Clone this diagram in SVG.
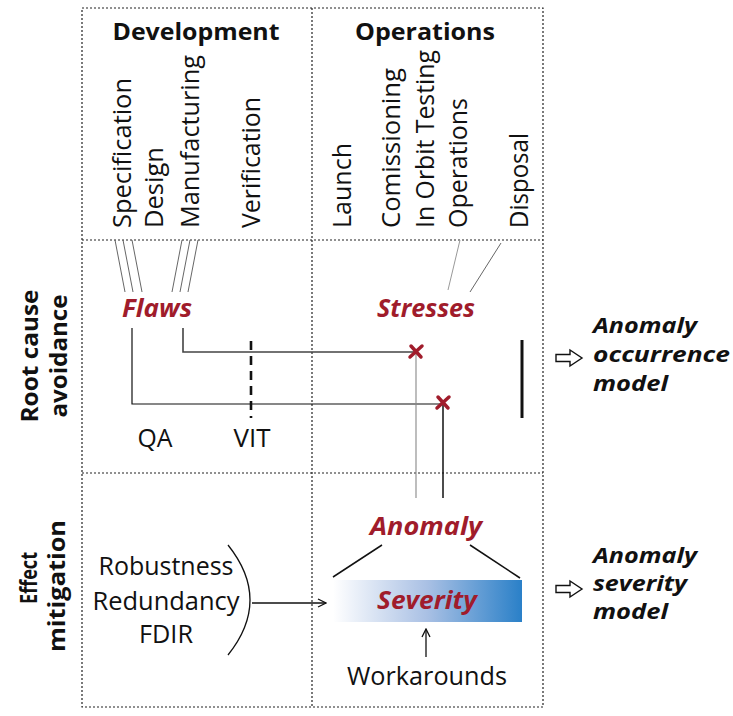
<svg xmlns="http://www.w3.org/2000/svg" width="733" height="716" viewBox="0 0 733 716">
<style>
text{font-family:"Open Sans","Liberation Sans",sans-serif;fill:#111;}
.hdr{font-size:24px;font-weight:bold;text-anchor:middle;}
.ph{font-size:26px;}
.lbl{font-size:25px;}
.red{font-size:25px;font-weight:bold;font-style:italic;fill:#a01c2b;text-anchor:middle;}
.side{font-size:24px;font-weight:bold;text-anchor:middle;}
.mod{font-size:22px;font-weight:bold;font-style:italic;}
.grid{fill:none;stroke:#222;stroke-width:1.2;stroke-dasharray:2 2;}
.thin{fill:none;stroke:#555;stroke-width:0.9;}
.cx{stroke:#a01c2b;stroke-width:3.5;stroke-linecap:round;}
</style>
<defs>
<linearGradient id="sev" x1="0" y1="0" x2="1" y2="0">
<stop offset="0" stop-color="#ffffff"/>
<stop offset="0.5" stop-color="#a9c0e4"/>
<stop offset="1" stop-color="#2a80c8"/>
</linearGradient>
<marker id="arr" markerWidth="10" markerHeight="10" refX="9" refY="5" orient="auto" markerUnits="userSpaceOnUse">
<path d="M1,1 L9,5 L1,9" fill="none" stroke="#111" stroke-width="1.3"/>
</marker>
</defs>

<g id="grid">
<rect class="grid" x="82" y="8" width="461" height="699"/>
<line class="grid" x1="312" y1="8" x2="312" y2="707"/>
<line class="grid" x1="82" y1="240" x2="543" y2="240"/>
<line class="grid" x1="82" y1="473" x2="543" y2="473"/>
</g>

<g id="headers">
<text class="hdr" x="196" y="40" textLength="167" lengthAdjust="spacingAndGlyphs">Development</text>
<text class="hdr" x="425" y="40" textLength="140" lengthAdjust="spacingAndGlyphs">Operations</text>
</g>

<g id="phases">
<text class="ph" transform="translate(131,228) rotate(-90)" textLength="150" lengthAdjust="spacingAndGlyphs">Specification</text>
<text class="ph" transform="translate(163,228) rotate(-90)" textLength="81" lengthAdjust="spacingAndGlyphs">Design</text>
<text class="ph" transform="translate(199,228) rotate(-90)" textLength="173" lengthAdjust="spacingAndGlyphs">Manufacturing</text>
<text class="ph" transform="translate(260,228) rotate(-90)" textLength="131" lengthAdjust="spacingAndGlyphs">Verification</text>
<text class="ph" transform="translate(351,228) rotate(-90)" textLength="85" lengthAdjust="spacingAndGlyphs">Launch</text>
<text class="ph" transform="translate(400,228) rotate(-90)" textLength="160" lengthAdjust="spacingAndGlyphs">Comissioning</text>
<text class="ph" transform="translate(434,228) rotate(-90)" textLength="178" lengthAdjust="spacingAndGlyphs">In Orbit Testing</text>
<text class="ph" transform="translate(467,228) rotate(-90)" textLength="130" lengthAdjust="spacingAndGlyphs">Operations</text>
<text class="ph" transform="translate(528,228) rotate(-90)" textLength="95" lengthAdjust="spacingAndGlyphs">Disposal</text>
</g>

<g id="side-labels">
<text class="side" transform="translate(38,356) rotate(-90)" textLength="133" lengthAdjust="spacingAndGlyphs">Root cause</text>
<text class="side" transform="translate(67,356) rotate(-90)" textLength="123" lengthAdjust="spacingAndGlyphs">avoidance</text>
<text class="side" transform="translate(37,578) rotate(-90)" textLength="52" lengthAdjust="spacingAndGlyphs">Effect</text>
<text class="side" transform="translate(65,586) rotate(-90)" textLength="132" lengthAdjust="spacingAndGlyphs">mitigation</text>
</g>

<g id="connectors">
<line class="thin" x1="115" y1="240" x2="125" y2="292"/>
<line class="thin" x1="123" y1="240" x2="133" y2="292"/>
<line class="thin" x1="132" y1="240" x2="142" y2="292"/>
<line class="thin" x1="182" y1="240" x2="172" y2="292"/>
<line class="thin" x1="190" y1="240" x2="180" y2="292"/>
<line class="thin" x1="198" y1="240" x2="188" y2="292"/>
<line x1="460" y1="240" x2="448" y2="290" stroke="#999" stroke-width="1"/>
<line x1="501" y1="243" x2="470" y2="292" stroke="#666" stroke-width="1"/>
<path d="M183,328 V352 H416" fill="none" stroke="#444" stroke-width="1.6"/>
<path d="M132,328 V404 H443" fill="none" stroke="#111" stroke-width="1.2"/>
<line x1="416" y1="352" x2="416" y2="498" stroke="#888" stroke-width="1.1"/>
<line x1="443" y1="403" x2="443" y2="498" stroke="#111" stroke-width="1.5"/>
<line x1="251" y1="341" x2="251" y2="418" stroke="#111" stroke-width="2.6" stroke-dasharray="9 6"/>
<line x1="522" y1="340" x2="522" y2="418" stroke="#111" stroke-width="3"/>
<line x1="382" y1="545" x2="333" y2="577" stroke="#111" stroke-width="1.5"/>
<line x1="470" y1="545" x2="520" y2="578" stroke="#111" stroke-width="1.5"/>
<path d="M228,545 Q272,600 228,655" fill="none" stroke="#111" stroke-width="1.3"/>
<line x1="252" y1="603" x2="326" y2="603" stroke="#111" stroke-width="1.3" marker-end="url(#arr)"/>
<line x1="426" y1="657" x2="426" y2="629" stroke="#111" stroke-width="1.3" marker-end="url(#arr)"/>
<path d="M556,354.5 H570 V350 L582,358 L570,366 V361.5 H556 Z" fill="#fff" stroke="#111" stroke-width="1.4"/>
<path d="M556,585.5 H570 V581 L582,589 L570,597 V592.5 H556 Z" fill="#fff" stroke="#111" stroke-width="1.4"/>
</g>

<g id="crosses">
<path class="cx" d="M411,346 L421,357 M422,346 L410,357"/>
<path class="cx" d="M438,397 L448,408 M449,397 L437,408"/>
</g>

<g id="flaws"><text class="red" x="157" y="317" textLength="70" lengthAdjust="spacingAndGlyphs">Flaws</text></g>
<g id="stresses"><text class="red" x="426" y="317" textLength="98" lengthAdjust="spacingAndGlyphs">Stresses</text></g>
<g id="qa"><text class="lbl" x="155" y="447" text-anchor="middle" textLength="35" lengthAdjust="spacingAndGlyphs">QA</text></g>
<g id="vit"><text class="lbl" x="252" y="447" text-anchor="middle" textLength="37" lengthAdjust="spacingAndGlyphs">VIT</text></g>

<g id="anomaly"><text class="red" x="426" y="535" textLength="112" lengthAdjust="spacingAndGlyphs">Anomaly</text></g>
<g id="severity">
<rect x="333" y="580" width="189" height="42" fill="url(#sev)"/>
<text class="red" x="427" y="609" textLength="100" lengthAdjust="spacingAndGlyphs">Severity</text>
</g>
<g id="workarounds"><text class="lbl" x="427" y="685" text-anchor="middle" textLength="160" lengthAdjust="spacingAndGlyphs">Workarounds</text></g>

<g id="mitigations">
<text class="lbl" x="166" y="575" text-anchor="middle" textLength="135" lengthAdjust="spacingAndGlyphs">Robustness</text>
<text class="lbl" x="166" y="610" text-anchor="middle" textLength="147" lengthAdjust="spacingAndGlyphs">Redundancy</text>
<text class="lbl" x="166" y="643" text-anchor="middle" textLength="54" lengthAdjust="spacingAndGlyphs">FDIR</text>
</g>

<g id="occurrence-model">
<text class="mod" x="593" y="333" textLength="104" lengthAdjust="spacingAndGlyphs">Anomaly</text>
<text class="mod" x="593" y="362" textLength="137" lengthAdjust="spacingAndGlyphs">occurrence</text>
<text class="mod" x="593" y="391" textLength="75" lengthAdjust="spacingAndGlyphs">model</text>
</g>
<g id="severity-model">
<text class="mod" x="593" y="563" textLength="104" lengthAdjust="spacingAndGlyphs">Anomaly</text>
<text class="mod" x="593" y="591" textLength="94" lengthAdjust="spacingAndGlyphs">severity</text>
<text class="mod" x="593" y="619" textLength="75" lengthAdjust="spacingAndGlyphs">model</text>
</g>
</svg>
